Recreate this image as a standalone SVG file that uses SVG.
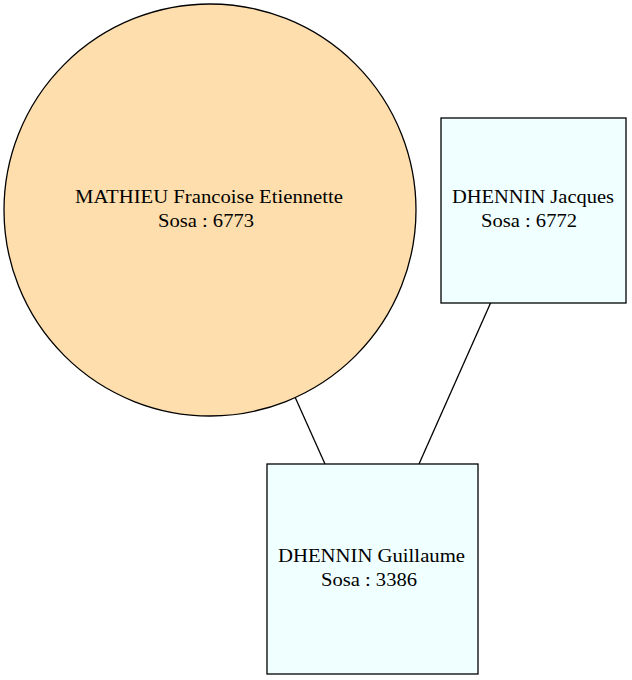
<svg xmlns="http://www.w3.org/2000/svg" width="632" height="680" viewBox="0 0 632 680">
<style>
.n{stroke:#000;stroke-width:1.3}
.e{stroke:#000;stroke-width:1.3;fill:none}
text{font-family:"Liberation Serif","Times New Roman",serif;font-size:18.5px;text-anchor:middle;fill:#000}
</style>
<rect width="632" height="680" fill="#fff"/>
<g id="edges">
<line class="e" x1="295" y1="397" x2="325" y2="464"/>
<line class="e" x1="491" y1="302" x2="419" y2="464"/>
</g>
<g id="mathieu">
<circle class="n" cx="210" cy="210" r="206" fill="#ffdead"/>
<text x="209" y="203" textLength="268" lengthAdjust="spacingAndGlyphs">MATHIEU Francoise Etiennette</text>
<text x="206" y="227" textLength="96" lengthAdjust="spacingAndGlyphs">Sosa : 6773</text>
</g>
<g id="jacques">
<rect class="n" x="441" y="118" width="185" height="185" fill="#f0ffff"/>
<text x="533" y="203" textLength="162" lengthAdjust="spacingAndGlyphs">DHENNIN Jacques</text>
<text x="529" y="227" textLength="96" lengthAdjust="spacingAndGlyphs">Sosa : 6772</text>
</g>
<g id="guillaume">
<rect class="n" x="267" y="464" width="211" height="210" fill="#f0ffff"/>
<text x="371.5" y="562" textLength="187" lengthAdjust="spacingAndGlyphs">DHENNIN Guillaume</text>
<text x="369" y="586" textLength="96" lengthAdjust="spacingAndGlyphs">Sosa : 3386</text>
</g>
</svg>
